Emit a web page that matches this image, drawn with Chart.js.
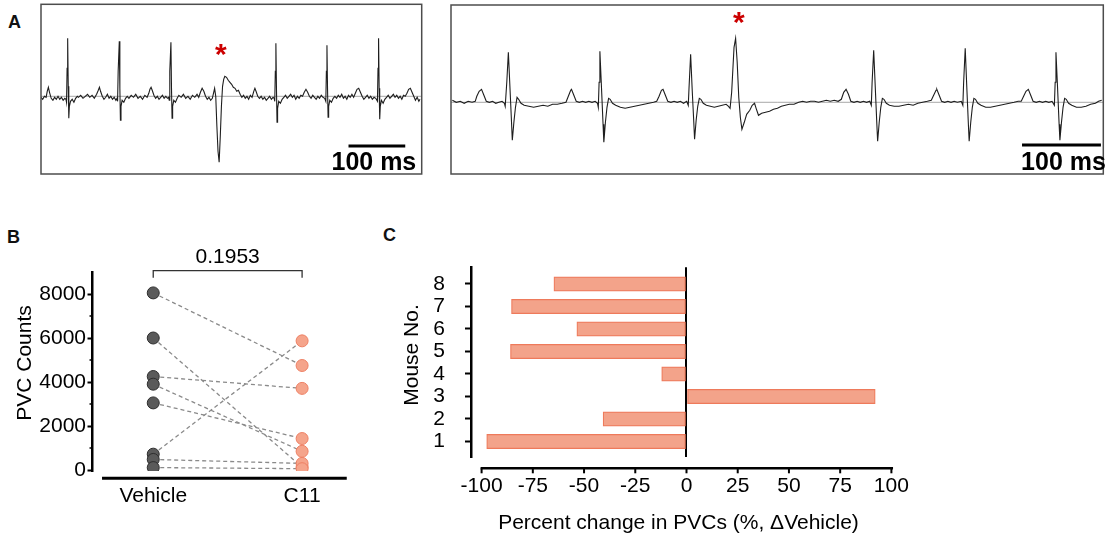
<!DOCTYPE html>
<html>
<head>
<meta charset="utf-8">
<script src="https://cdn.jsdelivr.net/npm/chart.js@4.4.1/dist/chart.umd.min.js"></script>
<style>
  body { margin: 0; width: 1108px; height: 540px; background: #fff; position: relative; overflow: hidden; }
  canvas { position: absolute; }
  .panel { position: absolute; font: bold 18px Arial, "Liberation Sans", sans-serif; line-height: 18px; color: #111; }
</style>
</head>
<body>
<div class="panel" style="left:8px;top:13px">A</div>
<div class="panel" style="left:7px;top:228px">B</div>
<div class="panel" style="left:383px;top:226px">C</div>

<canvas id="ecgLeft" width="401" height="182" style="left:31px;top:0px"></canvas>
<canvas id="ecgRight" width="668" height="182" style="left:440px;top:0px"></canvas>
<canvas id="pvcChart" width="370" height="320" style="left:0px;top:220px"></canvas>
<canvas id="pctChart" width="560" height="320" style="left:380px;top:220px"></canvas>

<script>
// ECG traces, [time ms, amplitude]
const leftTrace = [[0,-1],[3,-3],[6,0],[9,-1],[11,5],[13,9],[15,4],[18,-2],[21,-4],[24,-1],[27,-3],[30,0],[33,-3],[36,-1],[39,-4],[42,-2],[44,-3],[45,-6],[46,28],[47,58],[48,10],[49,-22],[50,-10],[52,-5],[55,-3],[58,-6],[61,-2],[64,0],[66,-1],[70,1],[74,-2],[78,0],[82,2],[86,-1],[90,1],[94,-2],[98,2],[101,6],[103,9],[105,5],[108,0],[111,-3],[114,-1],[117,2],[120,-2],[123,0],[126,-3],[129,-1],[132,-4],[134,-2],[135,-5],[136,25],[138,55],[139,8],[140,-24],[141,-10],[143,-4],[146,-6],[149,-2],[152,0],[155,-2],[159,1],[163,-1],[167,2],[171,-2],[175,0],[179,-3],[183,1],[187,-1],[190,3],[192,7],[194,9],[196,6],[199,1],[202,-2],[205,0],[208,-3],[211,-1],[214,1],[217,-2],[220,0],[223,-2],[225,-1],[226,-4],[227,25],[229,54],[230,8],[231,-22],[232,-10],[234,-4],[237,-6],[240,-2],[243,1],[247,-1],[251,2],[255,-2],[259,0],[263,-3],[267,1],[271,-1],[275,2],[278,-1],[281,4],[284,8],[287,5],[290,0],[293,-3],[296,-1],[299,-4],[302,-2],[304,3],[306,8],[308,0],[310,-30],[312,-55],[314,-66],[316,-40],[318,-10],[320,10],[322,17],[324,20],[327,19],[330,16],[333,14],[336,12],[339,9],[342,8],[345,5],[348,6],[351,2],[354,-1],[357,1],[360,-2],[363,0],[366,-3],[369,1],[372,-1],[375,5],[377,8],[379,5],[382,0],[385,-2],[388,0],[391,-3],[394,-1],[397,-4],[400,-2],[403,0],[406,-3],[409,-1],[411,-2],[412,-5],[413,25],[414,53],[415,8],[416,-26],[417,-12],[419,-5],[422,-7],[425,-3],[428,-1],[431,1],[434,-2],[437,0],[440,2],[443,-1],[446,1],[449,-3],[452,0],[455,-2],[458,1],[461,0],[464,4],[467,7],[470,4],[473,0],[476,-2],[479,1],[482,-1],[485,-3],[488,0],[491,-2],[494,1],[497,-1],[500,-2],[502,-5],[503,25],[504,51],[505,8],[506,-21],[507,-10],[509,-4],[512,-6],[515,-2],[518,0],[521,-2],[524,1],[527,-1],[530,2],[533,-2],[536,0],[539,-3],[542,1],[545,-1],[548,2],[551,-1],[554,3],[557,7],[560,8],[563,4],[566,0],[569,-3],[572,-1],[575,1],[578,-2],[581,0],[584,-3],[587,-1],[590,-2],[593,-5],[594,28],[595,58],[596,8],[597,-23],[598,-10],[600,-4],[603,-7],[606,-3],[609,-1],[612,1],[615,-2],[618,0],[621,2],[624,-1],[627,1],[630,-2],[633,0],[636,-3],[639,1],[642,0],[645,3],[648,7],[651,8],[654,4],[657,0],[660,-4],[663,-1],[666,-5],[668,-3]];

const rightTrace = [[3,2],[8,0],[13,1],[18,-1],[23,1],[28,0],[32,1],[34,6],[37,11],[40,13],[43,7],[46,1],[50,0],[54,1],[58,-1],[62,0],[66,1],[69,-1],[70,-4],[72,20],[74,50],[76,15],[78,-20],[79,-38],[81,-20],[83,-5],[85,5],[87,3],[90,-1],[94,-3],[100,-4],[106,-5],[112,-4],[118,-3],[124,-4],[130,-2],[136,-2],[142,-1],[147,0],[150,6],[153,12],[154,13],[157,7],[160,1],[164,0],[168,1],[172,0],[176,1],[180,0],[184,1],[187,-1],[188,-5],[189,20],[190,51],[192,15],[194,-22],[195,-40],[197,-20],[199,-5],[201,4],[203,3],[206,-1],[210,-3],[216,-5],[222,-6],[228,-5],[234,-4],[240,-3],[246,-2],[252,-1],[258,0],[262,1],[265,6],[268,12],[270,13],[273,7],[276,1],[280,0],[284,1],[288,0],[292,1],[296,-1],[300,1],[302,-3],[303,15],[305,48],[307,12],[309,-20],[310,-37],[312,-18],[314,-4],[316,4],[318,3],[321,-1],[325,-3],[330,-4],[335,-5],[340,-4],[345,-3],[350,-2],[353,-4],[355,-6],[357,10],[360,55],[362,64],[364,40],[366,5],[368,-15],[370,-27],[373,-20],[376,-12],[380,-8],[383,-3],[386,-1],[388,-6],[391,-13],[395,-11],[400,-10],[405,-9],[410,-7],[415,-6],[420,-4],[425,-3],[430,-2],[436,-2],[442,0],[447,1],[452,0],[457,1],[462,1],[467,0],[472,1],[477,2],[482,1],[487,2],[492,1],[496,3],[499,10],[502,13],[505,8],[508,1],[512,0],[516,1],[520,0],[524,1],[528,0],[532,1],[534,-3],[535,20],[537,52],[539,15],[541,-22],[542,-39],[544,-20],[546,-5],[548,4],[550,3],[553,-1],[557,-3],[563,-4],[569,-4],[575,-3],[581,-2],[587,-3],[593,-1],[599,0],[605,1],[610,2],[613,7],[616,12],[617,13],[620,7],[623,1],[627,0],[631,1],[635,0],[639,1],[643,0],[648,1],[650,-3],[651,20],[653,54],[655,15],[657,-22],[658,-39],[660,-20],[662,-5],[664,4],[666,3],[669,-1],[673,-3],[679,-5],[685,-5],[691,-4],[697,-3],[703,-2],[709,-1],[715,0],[720,1],[724,1],[727,6],[730,11],[733,13],[736,7],[739,1],[743,0],[747,1],[751,0],[755,1],[759,0],[763,1],[766,-3],[767,20],[768,50],[770,15],[772,-22],[773,-38],[775,-20],[777,-5],[779,4],[781,3],[784,-1],[788,-3],[794,-5],[800,-5],[806,-4],[812,-2],[818,-1],[822,1],[826,2]];

// panel B: PVC counts per mouse
const groups = ["Vehicle", "C11"];
const vehicleCounts = [8050, 6000, 4250, 3900, 3050, 720, 480, 110];
const c11Counts = [4750, 130, 3710, 850, 1430, 5870, 300, 60];
const countTicks = [0, 2000, 4000, 6000, 8000];
const countMinorTicks = [1000, 3000, 5000, 7000];
const pValue = "0.1953";

// panel C: percent change per mouse
const mouseIds = [1, 2, 3, 4, 5, 6, 7, 8];
const pctChange = [-97.5, -40.7, 92.1, -12.1, -85.9, -53.5, -85.4, -64.7];
const pctTicks = [-100, -75, -50, -25, 0, 25, 50, 75, 100];

const FONT = 'Arial, "Liberation Sans", sans-serif';
Chart.defaults.font.family = FONT;
Chart.defaults.color = "#000";

const ecgDecor = {
  id: "ecgDecor",
  afterDraw: (chart, args, opts) => {
    const { ctx, chartArea: a, scales } = chart;
    ctx.save();
    ctx.strokeStyle = "#4d4d4d";
    ctx.lineWidth = 1.5;
    ctx.strokeRect(a.left, a.top, a.right - a.left, a.bottom - a.top);
    // scale bar label
    const cx = scales.x.getPixelForValue((opts.bar[0] + opts.bar[1]) / 2) + opts.textShift;
    ctx.fillStyle = "#000";
    ctx.font = "bold 25px " + FONT;
    ctx.textAlign = "center";
    ctx.textBaseline = "alphabetic";
    ctx.fillText("100 ms", cx, scales.y.getPixelForValue(opts.textY));
    // PVC marker
    ctx.fillStyle = "#cc0000";
    ctx.font = "bold 30px " + FONT;
    ctx.fillText("*", scales.x.getPixelForValue(opts.star[0]), scales.y.getPixelForValue(opts.star[1]) + 17);
    ctx.restore();
  },
};

function makeTrace(id, trace, o) {
  return new Chart(document.getElementById(id), {
    type: "line",
    data: {
      datasets: [
        { data: trace.map((p) => ({ x: p[0], y: p[1] })), borderColor: "#1e1e1e", borderWidth: 1.1, pointRadius: 0, order: 1 },
        { data: [{ x: o.xMin, y: 0 }, { x: o.xMax, y: 0 }], borderColor: "#a8a8a8", borderWidth: 1, pointRadius: 0, order: 2 },
        { data: [{ x: o.bar[0], y: o.barY }, { x: o.bar[1], y: o.barY }], borderColor: "#000", borderWidth: 3, pointRadius: 0, order: 0 },
      ],
    },
    options: {
      responsive: false,
      animation: false,
      events: [],
      layout: { padding: o.padding },
      scales: {
        x: { type: "linear", min: o.xMin, max: o.xMax, display: false },
        y: { min: o.yMin, max: o.yMax, display: false },
      },
      plugins: {
        legend: { display: false },
        tooltip: { enabled: false },
        ecgDecor: { bar: o.bar, textY: o.textY, textShift: o.textShift, star: o.star },
      },
    },
    plugins: [ecgDecor],
  });
}

makeTrace("ecgLeft", leftTrace, {
  xMin: 0, xMax: 671, yMin: -77.7, yMax: 92,
  padding: { left: 10, right: 10.3, top: 4.3, bottom: 8 },
  bar: [542, 642], barY: -49.7, textY: -73.5, textShift: -3, star: [317, 49],
});

makeTrace("ecgRight", rightTrace, {
  xMin: 1.3, xMax: 828, yMin: -71.7, yMax: 97.3,
  padding: { left: 11, right: 4.7, top: 5, bottom: 8 },
  bar: [725, 825], barY: -42.7, textY: -67.5, textShift: 2, star: [366, 87],
});

// panel B
const pvcDecor = {
  id: "pvcDecor",
  afterDraw: (chart) => {
    const { ctx, chartArea: a, scales: { x, y } } = chart;
    ctx.save();
    ctx.strokeStyle = "#000";
    // x axis, offset below the plot
    ctx.lineWidth = 3;
    ctx.beginPath();
    ctx.moveTo(x.getPixelForValue(0.656), a.bottom + 7.2);
    ctx.lineTo(x.getPixelForValue(2.3), a.bottom + 7.2);
    ctx.stroke();
    // minor ticks
    ctx.lineWidth = 1.5;
    countMinorTicks.forEach((v) => {
      const py = y.getPixelForValue(v);
      ctx.beginPath();
      ctx.moveTo(a.left - 3, py);
      ctx.lineTo(a.left, py);
      ctx.stroke();
    });
    // significance bracket
    const x1 = x.getPixelForValue(1), x2 = x.getPixelForValue(2);
    const top = y.getPixelForValue(9060);
    ctx.strokeStyle = "#333";
    ctx.lineWidth = 1.3;
    ctx.beginPath();
    ctx.moveTo(x1, top + 7);
    ctx.lineTo(x1, top);
    ctx.lineTo(x2, top);
    ctx.lineTo(x2, top + 7);
    ctx.stroke();
    ctx.fillStyle = "#000";
    ctx.font = "21px " + FONT;
    ctx.textAlign = "center";
    ctx.textBaseline = "middle";
    ctx.fillText(pValue, (x1 + x2) / 2, top - 13);
    // axis title
    ctx.translate(25, 143);
    ctx.rotate(-Math.PI / 2);
    ctx.fillText("PVC Counts", 0, 0);
    ctx.restore();
  },
};

const pairLines = vehicleCounts.map((v, i) => ({
  data: [{ x: 1, y: v }, { x: 2, y: c11Counts[i] }],
  showLine: true,
  borderColor: "#8a8a8a",
  borderDash: [4, 3],
  borderWidth: 1.3,
  pointRadius: 0,
  order: 2,
}));

new Chart(document.getElementById("pvcChart"), {
  type: "scatter",
  data: {
    datasets: [
      ...pairLines,
      {
        data: vehicleCounts.map((v) => ({ x: 1, y: v })),
        pointRadius: 6,
        backgroundColor: "#5a5a5a",
        borderColor: "#2e2e2e",
        borderWidth: 1,
        order: 1,
      },
      {
        data: c11Counts.map((v) => ({ x: 2, y: v })),
        pointRadius: 6,
        backgroundColor: "#f5a48b",
        borderColor: "#ee8064",
        borderWidth: 1,
        order: 1,
      },
    ],
  },
  options: {
    responsive: false,
    animation: false,
    events: [],
    layout: { padding: { left: 0, right: 15.8, top: 52, bottom: 0 } },
    scales: {
      x: {
        type: "linear",
        min: 0.592,
        max: 2.35,
        afterBuildTicks: (s) => { s.ticks = [{ value: 1 }, { value: 2 }]; },
        afterFit: (s) => { s.height = 68.9; },
        border: { display: false },
        grid: { display: false, drawTicks: false },
        ticks: { padding: 12.3, autoSkip: false, maxRotation: 0, font: { size: 21 }, callback: (v) => groups[v - 1] },
      },
      y: {
        min: -50,
        max: 9000,
        afterBuildTicks: (s) => { s.ticks = countTicks.map((v) => ({ value: v })); },
        afterFit: (s) => { s.width = 92.5; },
        border: { display: true, color: "#000", width: 2.5 },
        grid: { drawOnChartArea: false, drawTicks: true, tickLength: 5, tickWidth: 2, tickColor: "#000" },
        ticks: { padding: 1.5, autoSkip: false, font: { size: 21 }, callback: (v) => String(v) },
      },
    },
    plugins: { legend: { display: false }, tooltip: { enabled: false } },
  },
  plugins: [pvcDecor],
});

// panel C
const pctDecor = {
  id: "pctDecor",
  afterDraw: (chart) => {
    const { ctx, chartArea: a, scales: { x } } = chart;
    const axisY = a.bottom + 11.3;
    ctx.save();
    ctx.strokeStyle = "#000";
    ctx.lineWidth = 2.5;
    ctx.beginPath();
    ctx.moveTo(x.getPixelForValue(-100) - 1, axisY);
    ctx.lineTo(x.getPixelForValue(100.8), axisY);
    ctx.stroke();
    ctx.lineWidth = 2;
    pctTicks.forEach((v) => {
      const px = x.getPixelForValue(v);
      ctx.beginPath();
      ctx.moveTo(px, axisY);
      ctx.lineTo(px, axisY + 5);
      ctx.stroke();
    });
    ctx.fillStyle = "#000";
    ctx.font = "21px " + FONT;
    ctx.textAlign = "center";
    ctx.textBaseline = "middle";
    ctx.fillText("Percent change in PVCs (%, \u0394Vehicle)", x.getPixelForValue(0) - 8, 303.3);
    ctx.translate(32.7, 135);
    ctx.rotate(-Math.PI / 2);
    ctx.fillText("Mouse No.", 0, 0);
    ctx.restore();
  },
};

new Chart(document.getElementById("pctChart"), {
  type: "bar",
  data: {
    datasets: [
      {
        data: mouseIds.map((m, i) => ({ x: pctChange[i], y: m })),
        backgroundColor: "#f3a38a",
        borderColor: "#ee7a5b",
        borderWidth: 1.2,
        borderSkipped: false,
        barThickness: 14.3,
      },
    ],
  },
  options: {
    indexAxis: "y",
    responsive: false,
    animation: false,
    events: [],
    layout: { padding: { left: 0, right: 45, top: 47.3, bottom: 0 } },
    scales: {
      x: {
        type: "linear",
        min: -105.17,
        max: 101.76,
        afterBuildTicks: (s) => { s.ticks = pctTicks.map((v) => ({ value: v })); },
        afterFit: (s) => { s.height = 83; },
        border: { display: false },
        grid: {
          drawTicks: false,
          lineWidth: 2,
          color: (c) => (c.tick && c.tick.value === 0 ? "#000" : "rgba(0,0,0,0)"),
        },
        ticks: { padding: 17.1, autoSkip: false, maxRotation: 0, font: { size: 21 }, callback: (v) => String(v) },
      },
      y: {
        type: "linear",
        offset: false,
        min: 0.311,
        max: 8.742,
        afterBuildTicks: (s) => { s.ticks = mouseIds.map((v) => ({ value: v })); },
        afterFit: (s) => { s.width = 91; },
        border: { display: true, color: "#000", width: 2.5 },
        grid: { offset: false, drawOnChartArea: false, drawTicks: true, tickLength: 6, tickWidth: 2, tickColor: "#000" },
        ticks: { padding: 20, autoSkip: false, font: { size: 21 }, callback: (v) => String(v) },
      },
    },
    plugins: { legend: { display: false }, tooltip: { enabled: false } },
  },
  plugins: [pctDecor],
});
</script>
</body>
</html>
